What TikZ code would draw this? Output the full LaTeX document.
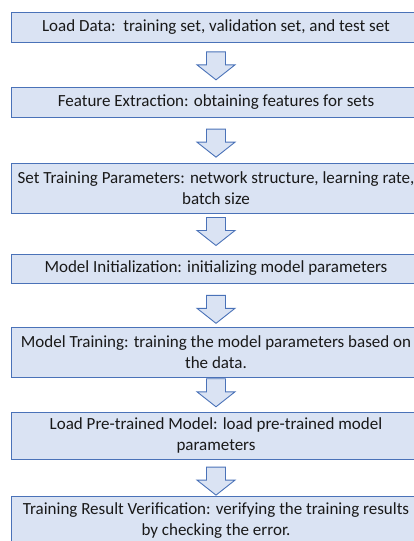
\documentclass[tikz,border=0pt]{standalone}
\usepackage{fontspec}
\setmainfont{Carlito}
\usetikzlibrary{calc}
\definecolor{boxfill}{HTML}{DAE3F3}
\definecolor{boxline}{HTML}{4A72B8}
% hollow block arrow pointing down, centred on a named coordinate
\newcommand\blockarrow[1]{%
  \draw[arrowline] (#1) ++(-9.5,-14) -- ++(19,0) -- ++(0,13) -- ++(9.5,0)
    -- ++(-19,15) -- ++(-19,-15) -- ++(9.5,0) -- cycle;}
\begin{document}
\begin{tikzpicture}[x=1pt,y=-1pt,
  stepbox/.style={draw=boxline,fill=boxfill,line width=0.9pt,rectangle,
    minimum width=410pt,inner sep=0pt,align=center,
    font=\fontsize{17}{21}\selectfont,text=black!90},
  arrowline/.style={draw=boxline,fill=boxfill,line width=0.9pt,line join=miter}]
\useasboundingbox (0,0) rectangle (414,541);
\clip (0,0) rectangle (414,541);
\node[stepbox,minimum height=30pt] (load) at (216,27)
  {Load Data:\ \ training set, validation set, and test set};
\node[stepbox,minimum height=30pt] (feat) at (216,102)
  {Feature Extraction: obtaining features for sets};
\node[stepbox,minimum height=50pt] (param) at (216,188)
  {Set Training Parameters: network structure, learning rate,\\ batch size};
\node[stepbox,minimum height=29pt] (init) at (216,268.5)
  {Model Initialization: initializing model parameters};
\node[stepbox,minimum height=50pt] (train) at (216,352)
  {Model Training: training the model parameters based on\\ the data.};
\node[stepbox,minimum height=47pt] (pre) at (216,435.5)
  {Load Pre-trained Model: load pre-trained model\\ parameters};
\node[stepbox,minimum height=50pt] (verify) at (216,521)
  {Training Result Verification: verifying the training results\\ by checking the error.};
\coordinate (a1) at ($(load.south)!0.53!(feat.north)$);
\coordinate (a2) at ($(feat.south)!0.57!(param.north)$);
\coordinate (a3) at ($(param.south)!0.45!(init.north)$);
\coordinate (a4) at ($(init.south)!0.6!(train.north)$);
\coordinate (a5) at ($(train.south)!0.45!(pre.north)$);
\coordinate (a6) at ($(pre.south)!0.6!(verify.north)$);
\foreach \a in {a1,a2,a3,a4,a5,a6} {\blockarrow{\a}}
\end{tikzpicture}
\end{document}
